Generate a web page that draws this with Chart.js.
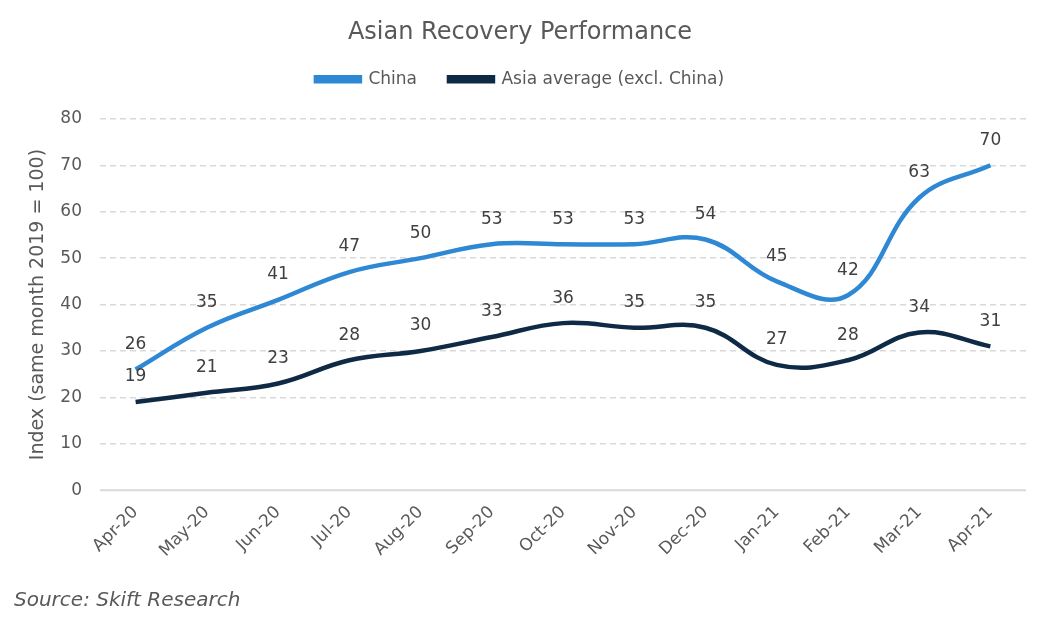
<!DOCTYPE html>
<html><head><meta charset="utf-8">
<script src="https://cdn.jsdelivr.net/npm/chart.js@4/dist/chart.umd.min.js"></script>
<style>
html,body{margin:0;padding:0;background:#fff;}
#wrap{position:relative;width:1048px;height:625px;}
#src{position:absolute;left:14px;top:587px;font-family:"DejaVu Sans",sans-serif;font-style:italic;font-size:20px;color:#595959;}
</style></head>
<body>
<div id="wrap"><canvas id="c" width="1048" height="625"></canvas><div id="src">Source: Skift Research</div></div>
<script>
const categories = ["Apr-20","May-20","Jun-20","Jul-20","Aug-20","Sep-20","Oct-20","Nov-20","Dec-20","Jan-21","Feb-21","Mar-21","Apr-21"];
const china = [26,35,41,47,50,53,53,53,54,45,42,63,70];
const asiaAvg = [19,21,23,28,30,33,36,35,35,27,28,34,31];
const yTicks = [0,10,20,30,40,50,60,70,80];

const FONT = "DejaVu Sans";
const GRAY = "#595959";
const LEGEND_HEIGHT = 80;

const helperPlugin = {
  id: 'helper',
  beforeLayout(chart) {
    const lg = chart.legend;
    if (lg && !lg._patched) {
      const orig = lg.fit.bind(lg);
      lg.fit = function() { orig(); this.height = LEGEND_HEIGHT; };
      lg._patched = true;
    }
  },
  beforeDatasetsDraw(chart) {
    const y = chart.scales.y;
    const ctx = chart.ctx;
    const py = y.getPixelForValue(0);
    ctx.save();
    ctx.strokeStyle = '#D9D9D9';
    ctx.lineWidth = 2;
    ctx.setLineDash([]);
    ctx.beginPath();
    ctx.moveTo(chart.chartArea.left, py);
    ctx.lineTo(chart.chartArea.right, py);
    ctx.stroke();
    ctx.restore();
  },
  afterDatasetsDraw(chart) {
    const ctx = chart.ctx;
    ctx.save();
    ctx.font = "17px '" + FONT + "'";
    ctx.fillStyle = '#404040';
    ctx.textAlign = 'center';
    ctx.textBaseline = 'middle';
    chart.data.datasets.forEach((ds, i) => {
      const meta = chart.getDatasetMeta(i);
      meta.data.forEach((pt, j) => {
        ctx.fillText(String(ds.data[j]), pt.x, pt.y - 25);
      });
    });
    ctx.restore();
  }
};

new Chart(document.getElementById('c'), {
  type: 'line',
  data: {
    labels: categories,
    datasets: [
      {label: 'China', data: china, borderColor: '#2E88D4', backgroundColor: '#2E88D4', borderWidth: 4.5, pointRadius: 0, tension: 0.4},
      {label: 'Asia average (excl. China)', data: asiaAvg, borderColor: '#0E2A45', backgroundColor: '#0E2A45', borderWidth: 4.5, pointRadius: 0, tension: 0.4}
    ]
  },
  options: {
    responsive: false,
    animation: false,
    layout: {padding: {left: 14, right: 22, top: 11, bottom: 52}},
    plugins: {
      title: {display: true, text: 'Asian Recovery Performance', color: GRAY, font: {family: FONT, size: 24, weight: 'normal'}, padding: {top: 7, bottom: -8}},
      legend: {position: 'top', labels: {color: GRAY, font: {family: FONT, size: 17}, boxWidth: 44, boxHeight: 4, padding: 32}},
      tooltip: {enabled: false}
    },
    scales: {
      x: {
        offset: true,
        afterFit: (s) => { s.paddingLeft = 0; s.paddingRight = 0; },
        grid: {display: false, drawTicks: false},
        border: {display: false},
        ticks: {color: GRAY, font: {family: FONT, size: 17}, maxRotation: 45, minRotation: 45, padding: 12}
      },
      y: {
        min: 0, max: 80,
        afterBuildTicks: (s) => { s.ticks = yTicks.map(v => ({value: v})); },
        afterFit: (s) => { s.width = 86; },
        grid: {color: (c) => c.tick.value === 0 ? 'rgba(0,0,0,0)' : '#D9D9D9', lineWidth: 1.4, drawTicks: false},
        border: {display: false, dash: [6, 4]},
        ticks: {color: GRAY, font: {family: FONT, size: 17}, padding: 18},
        title: {display: true, text: 'Index (same month 2019 = 100)', color: GRAY, font: {family: FONT, size: 19}, padding: {top: 13, bottom: 11}}
      }
    }
  },
  plugins: [helperPlugin]
});
</script>
</body></html>
